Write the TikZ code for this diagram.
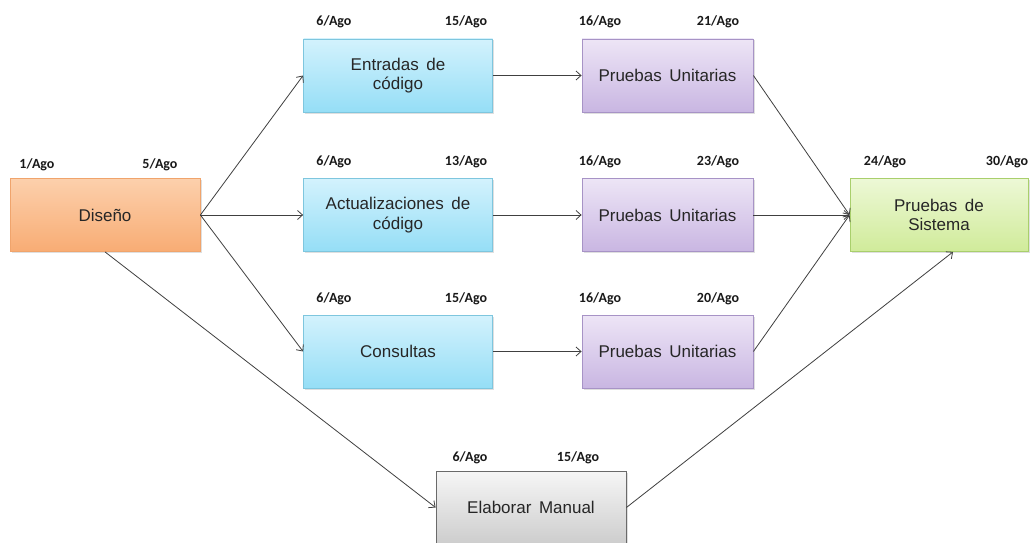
\documentclass[tikz,border=0pt]{standalone}
\usepackage{fontspec}
\setmainfont{Liberation Sans}[WordSpace={1.6}]
\newfontfamily\datefont{Carlito}
\usetikzlibrary{arrows.meta,shadows}
\definecolor{orT}{HTML}{FCD0AC}
\definecolor{orB}{HTML}{F8AC74}
\definecolor{orD}{HTML}{F0A46C}
\definecolor{blT}{HTML}{D3F2FD}
\definecolor{blB}{HTML}{95DEF6}
\definecolor{blD}{HTML}{7EC6DE}
\definecolor{puT}{HTML}{EDE5F6}
\definecolor{puB}{HTML}{C9B6E2}
\definecolor{puD}{HTML}{A793C6}
\definecolor{grT}{HTML}{EDF8D6}
\definecolor{grB}{HTML}{D0EB9A}
\definecolor{grD}{HTML}{A9CF6C}
\definecolor{gyT}{HTML}{F6F6F6}
\definecolor{gyB}{HTML}{CDCDCD}
\definecolor{gyD}{HTML}{6A6A6A}
\tikzset{
  taskbox/.style={draw, line width=0.8pt, minimum height=73pt, align=center,
    inner sep=0pt, text=black!85, font=\fontsize{17}{19.5}\selectfont,
    drop shadow={opacity=0.25, shadow xshift=1.5pt, shadow yshift=-1.5pt}},
  orbox/.style={taskbox, draw=orD, top color=orT, bottom color=orB},
  blbox/.style={taskbox, draw=blD, top color=blT, bottom color=blB},
  pubox/.style={taskbox, draw=puD, top color=puT, bottom color=puB},
  grbox/.style={taskbox, draw=grD, top color=grT, bottom color=grB},
  gybox/.style={taskbox, draw=gyD, top color=gyT, bottom color=gyB},
  datelbl/.style={font=\datefont\bfseries\fontsize{14}{16}\selectfont, text=black!90, inner sep=0pt},
  conn/.style={draw=black!75, line width=0.8pt, -{Straight Barb[length=5pt,width=9pt]}}
}
\begin{document}
\begin{tikzpicture}[x=1pt,y=-1pt]
\fill[white] (0,0) rectangle (1031,543);
\useasboundingbox (0,0) rectangle (1031,543);
% boxes
\node[orbox, minimum width=190pt] (dis) at (105,215) {Diseño};
\node[blbox, minimum width=189pt] (ent) at (398,75.5) {Entradas de\\código};
\node[blbox, minimum width=189pt] (act) at (398,215) {Actualizaciones de\\código};
\node[blbox, minimum width=189pt] (con) at (398,351.5) {Consultas};
\node[pubox, minimum width=171pt] (pu1) at (667.5,75.5) {Pruebas Unitarias};
\node[pubox, minimum width=171pt] (pu2) at (667.5,215) {Pruebas Unitarias};
\node[pubox, minimum width=171pt] (pu3) at (667.5,351.5) {Pruebas Unitarias};
\node[grbox, minimum width=178pt] (sis) at (939,215) {Pruebas de\\Sistema};
\node[gybox, minimum width=190pt] (man) at (531,507.5) {Elaborar Manual};
% dates
\node[datelbl] (d1) at (37,165) {1/Ago};
\node[datelbl] (d2) at (160,165) {5/Ago};
\node[datelbl] (e1) at (334,22) {6/Ago};
\node[datelbl] (e2) at (466,22) {15/Ago};
\node[datelbl] (p1) at (600,22) {16/Ago};
\node[datelbl] (p2) at (718,22) {21/Ago};
\node[datelbl] (a1) at (334,162) {6/Ago};
\node[datelbl] (a2) at (466,162) {13/Ago};
\node[datelbl] (q1) at (600,162) {16/Ago};
\node[datelbl] (q2) at (718,162) {23/Ago};
\node[datelbl] (c1) at (334,299) {6/Ago};
\node[datelbl] (c2) at (466,299) {15/Ago};
\node[datelbl] (r1) at (600,299) {16/Ago};
\node[datelbl] (r2) at (718,299) {20/Ago};
\node[datelbl] (s1) at (885,162) {24/Ago};
\node[datelbl] (s2) at (1007,162) {30/Ago};
\node[datelbl] (m1) at (470,458) {6/Ago};
\node[datelbl] (m2) at (578,458) {15/Ago};
% connectors
\draw[conn] (dis.east) -- (ent.west);
\draw[conn] (dis.east) -- (act.west);
\draw[conn] (dis.east) -- (con.west);
\draw[conn] (dis.south) -- (man.west);
\draw[conn] (ent.east) -- (pu1.west);
\draw[conn] (act.east) -- (pu2.west);
\draw[conn] (con.east) -- (pu3.west);
\draw[conn] (pu1.east) -- (sis.west);
\draw[conn] (pu2.east) -- (sis.west);
\draw[conn] (pu3.east) -- (sis.west);
\draw[conn] (man.east) -- ([xshift=14pt]sis.south);
\end{tikzpicture}
\end{document}
